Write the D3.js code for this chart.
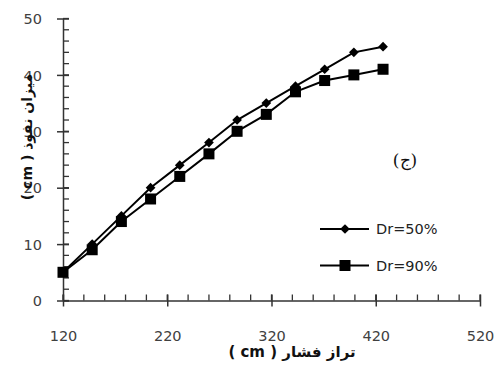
<!DOCTYPE html>
<html>
<head>
<meta charset="utf-8">
<script src="https://cdn.jsdelivr.net/npm/d3@7"></script>
<style>
  body { margin: 0; background: #fff; }
  svg { display: block; }
</style>
</head>
<body>
<div id="chart"></div>
<script>
// data
var pressure = [120, 148, 176, 204, 232, 260, 287, 315, 343, 371, 399, 427];
var dr50 = [5, 10, 15, 20, 24, 28, 32, 35, 38, 41, 44, 45];
var dr90 = [5, 9, 14, 18, 22, 26, 30, 33, 37, 39, 40, 41];
var xTicks = [120, 220, 320, 420, 520];
var yTicks = [0, 10, 20, 30, 40, 50];
var seriesNames = ["Dr=50%", "Dr=90%"];

var W = 498, H = 365;
var svg = d3.select("#chart").append("svg")
  .attr("width", W).attr("height", H);

var x = d3.scaleLinear().domain([120, 520]).range([63, 480]);
var y = d3.scaleLinear().domain([0, 50]).range([300.5, 18.5]);

var axisColor = "#333";
var labelFont = "'DejaVu Sans', sans-serif";

// minor ticks (inside)
svg.append("g").selectAll("line")
  .data(d3.range(0, 50.1, 2))
  .enter().append("line")
  .attr("x1", x(120)).attr("x2", x(120) + 6)
  .attr("y1", d => y(d)).attr("y2", d => y(d))
  .attr("stroke", axisColor).attr("stroke-width", 1.3);

svg.append("g").selectAll("line")
  .data(d3.range(120, 520.1, 20))
  .enter().append("line")
  .attr("x1", d => x(d)).attr("x2", d => x(d))
  .attr("y1", y(0)).attr("y2", y(0) - 6)
  .attr("stroke", axisColor).attr("stroke-width", 1.3);

// y axis, major ticks cross
var yAxis = d3.axisLeft(y).tickValues(yTicks).tickSize(0);
var gy = svg.append("g").attr("transform", "translate(" + x(120) + ",0)").call(yAxis);
gy.select(".domain").attr("stroke", axisColor).attr("stroke-width", 1.5);
gy.selectAll(".tick line").remove();
gy.selectAll(".tick").append("line")
  .attr("x1", -6).attr("x2", 6).attr("stroke", axisColor).attr("stroke-width", 1.5);
gy.selectAll("text").attr("x", -21).attr("dy", "0.36em")
  .attr("font-size", 14.5).attr("font-family", labelFont).attr("fill", "#404040");

var xAxis = d3.axisBottom(x).tickValues(xTicks).tickSize(0);
var gx = svg.append("g").attr("transform", "translate(0," + y(0) + ")").call(xAxis);
gx.select(".domain").attr("stroke", axisColor).attr("stroke-width", 1.5);
gx.selectAll(".tick line").remove();
gx.selectAll(".tick").append("line")
  .attr("y1", -6).attr("y2", 6).attr("stroke", axisColor).attr("stroke-width", 1.5);
gx.selectAll("text").attr("y", 35).attr("dy", "0.36em")
  .attr("font-size", 14.5).attr("font-family", labelFont).attr("fill", "#404040");

// series
var line = d3.line().x(d => x(d[0])).y(d => y(d[1]));
var s50 = pressure.map((p, i) => [p, dr50[i]]);
var s90 = pressure.map((p, i) => [p, dr90[i]]);

svg.append("path").datum(s50).attr("d", line)
  .attr("fill", "none").attr("stroke", "#000").attr("stroke-width", 2);
svg.append("path").datum(s90).attr("d", line)
  .attr("fill", "none").attr("stroke", "#000").attr("stroke-width", 2);

var diamond = d3.symbol().type(d3.symbolDiamond2).size(60);
svg.append("g").selectAll("path").data(s50).enter().append("path")
  .attr("d", diamond)
  .attr("transform", d => "translate(" + x(d[0]) + "," + y(d[1]) + ")")
  .attr("fill", "#000");

svg.append("g").selectAll("rect").data(s90).enter().append("rect")
  .attr("x", d => x(d[0]) - 5.5).attr("y", d => y(d[1]) - 5.5)
  .attr("width", 11).attr("height", 11).attr("fill", "#000");

// legend
var lg = svg.append("g");
[0, 1].forEach(function(i) {
  var ly = 229 + i * 36.5;
  lg.append("line").attr("x1", 320).attr("x2", 369).attr("y1", ly).attr("y2", ly)
    .attr("stroke", "#000").attr("stroke-width", 2);
  if (i === 0) {
    lg.append("path").attr("d", diamond).attr("transform", "translate(345," + ly + ")").attr("fill", "#000");
  } else {
    lg.append("rect").attr("x", 339.5).attr("y", ly - 5.5).attr("width", 11).attr("height", 11).attr("fill", "#000");
  }
  lg.append("text").attr("x", 376).attr("y", ly).attr("dy", "0.36em")
    .attr("font-size", 14.5).attr("font-family", labelFont).attr("fill", "#222")
    .text(seriesNames[i]);
});

// panel label
svg.append("text").attr("x", 405).attr("y", 160).attr("dy", "0.35em")
  .attr("text-anchor", "middle").attr("font-size", 17)
  .attr("font-family", "'DejaVu Serif', 'Liberation Serif', serif")
  .attr("fill", "#111").text("(ج)");

// axis titles
svg.append("text")
  .attr("transform", "translate(27,137) rotate(-90)")
  .attr("text-anchor", "middle").attr("dy", "0.35em")
  .attr("font-size", 14).attr("font-weight", "bold")
  .attr("font-family", "'DejaVu Sans', sans-serif").attr("fill", "#111")
  .attr("direction", "rtl").attr("unicode-bidi", "embed")
  .text("میزان نفوذ ( cm )");

svg.append("text")
  .attr("x", 292).attr("y", 352).attr("dy", "0.35em")
  .attr("text-anchor", "middle")
  .attr("font-size", 15).attr("font-weight", "bold")
  .attr("font-family", "'DejaVu Sans', sans-serif").attr("fill", "#111")
  .attr("direction", "rtl").attr("unicode-bidi", "embed")
  .text("تراز فشار ( cm )");
</script>
</body>
</html>
